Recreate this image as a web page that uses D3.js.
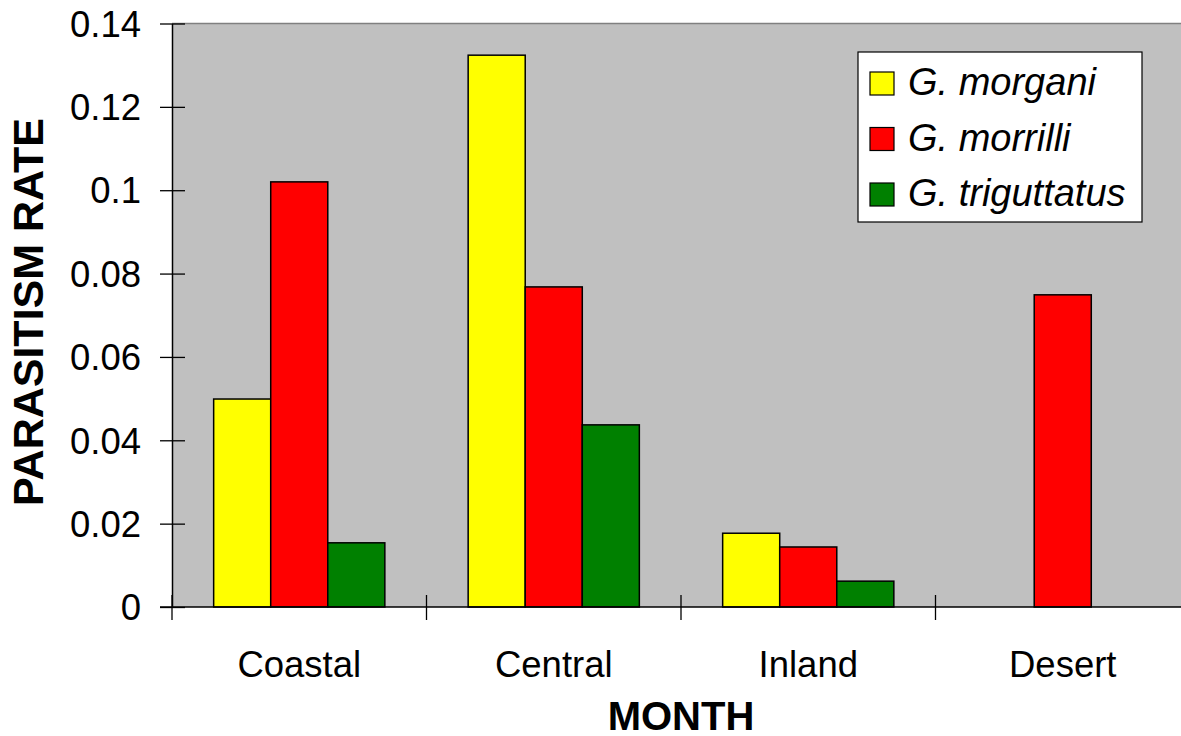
<!DOCTYPE html>
<html>
<head>
<meta charset="utf-8">
<script src="https://cdn.jsdelivr.net/npm/d3@7"></script>
<style>
  html, body { margin: 0; padding: 0; background: #ffffff; }
  svg { display: block; }
</style>
</head>
<body>
<svg id="chart" width="1181" height="736"></svg>
<script>
const categories = ["Coastal", "Central", "Inland", "Desert"];
const seriesNames = ["G. morgani", "G. morrilli", "G. triguttatus"];
const seriesColors = ["#FFFF00", "#FF0000", "#008000"];
const morgani = [0.0499, 0.1324, 0.0177, 0];
const morrilli = [0.1020, 0.0768, 0.0144, 0.0749];
const triguttatus = [0.0154, 0.0437, 0.0062, 0];
const yTicks = [0, 0.02, 0.04, 0.06, 0.08, 0.1, 0.12, 0.14];
const yTickLabels = ["0", "0.02", "0.04", "0.06", "0.08", "0.1", "0.12", "0.14"];
const seriesValues = [morgani, morrilli, triguttatus];

(function () {
const svg = d3.select("#chart");
const pLeft = 172, pRight = 1190, pTop = 23.5, pBottom = 607;
const font = "'Liberation Sans', Arial, sans-serif";

const x0 = d3.scaleBand().domain(categories).range([pLeft, pRight]).paddingInner(0).paddingOuter(0);
const x1 = d3.scaleBand().domain(seriesNames).range([0, x0.bandwidth()]).paddingInner(0).paddingOuter(0.73);
const y = d3.scaleLinear().domain([0, 0.14]).range([pBottom, pTop]);

// plot background
svg.append("rect").attr("x", pLeft).attr("y", pTop).attr("width", pRight - pLeft).attr("height", pBottom - pTop)
  .attr("fill", "#C0C0C0");
svg.append("line").attr("x1", pLeft).attr("x2", pRight).attr("y1", pTop).attr("y2", pTop)
  .attr("stroke", "#808080").attr("stroke-width", 1.5);

// bars
const groups = svg.append("g").selectAll("g").data(categories).join("g")
  .attr("transform", d => `translate(${x0(d)},0)`);
groups.selectAll("rect")
  .data((c, ci) => seriesNames.map((s, si) => ({ s, si, v: seriesValues[si][ci] })).filter(d => d.v > 0))
  .join("rect")
  .attr("x", d => x1(d.s))
  .attr("width", x1.bandwidth())
  .attr("y", d => y(d.v))
  .attr("height", d => y(0) - y(d.v))
  .attr("fill", d => seriesColors[d.si])
  .attr("stroke", "#000").attr("stroke-width", 1.5);

// y axis
const yAxis = d3.axisLeft(y).tickValues(yTicks).tickFormat((d, i) => yTickLabels[i]).tickSizeOuter(0).tickSize(0);
const yg = svg.append("g").attr("transform", `translate(${pLeft},0)`).call(yAxis);
yg.select(".domain").attr("stroke", "#000").attr("stroke-width", 1.5);
yg.selectAll(".tick line").attr("x1", -12).attr("x2", 13).attr("stroke", "#000").attr("stroke-width", 1.3);
yg.selectAll(".tick text").attr("x", -31).attr("dy", "0.35em")
  .style("font-family", font).style("font-size", "36.5px").attr("fill", "#000");

// x axis
const xAxis = d3.axisBottom(x0).tickSize(0).tickSizeOuter(0);
const xg = svg.append("g").attr("transform", `translate(0,${pBottom})`).call(xAxis);
xg.select(".domain").remove();
xg.append("line").attr("x1", 160).attr("x2", pRight).attr("y1", 0).attr("y2", 0).attr("stroke", "#000").attr("stroke-width", 1.5);
xg.selectAll(".tick text").attr("y", 70).attr("dy", 0)
  .style("font-family", font).style("font-size", "36.5px").attr("fill", "#000");
const boundaries = categories.map(c => x0(c)).concat([x0(categories[categories.length - 1]) + x0.bandwidth()]);
xg.selectAll("line.bt").data(boundaries).join("line").attr("class", "bt")
  .attr("x1", d => d).attr("x2", d => d).attr("y1", -12).attr("y2", 13)
  .attr("stroke", "#000").attr("stroke-width", 1.3);

// axis titles
svg.append("text").attr("transform", `translate(43,312) rotate(-90)`).attr("text-anchor", "middle")
  .style("font-family", font).style("font-size", "43px").style("font-weight", "bold").text("PARASITISM RATE");
svg.append("text").attr("x", (pLeft + pRight) / 2).attr("y", 730).attr("text-anchor", "middle")
  .style("font-family", font).style("font-size", "40px").style("font-weight", "bold").text("MONTH");

// legend
const lg = svg.append("g");
lg.append("rect").attr("x", 858).attr("y", 52).attr("width", 284).attr("height", 170)
  .attr("fill", "#fff").attr("stroke", "#000").attr("stroke-width", 1.2);
const rows = lg.selectAll("g.row").data(seriesNames).join("g").attr("class", "row")
  .attr("transform", (d, i) => `translate(0,${72 + i * 55.5})`);
rows.append("rect").attr("x", 870).attr("y", 0).attr("width", 24).attr("height", 23)
  .attr("fill", (d, i) => seriesColors[i]).attr("stroke", "#000").attr("stroke-width", 1.2);
rows.append("text").attr("x", 908).attr("y", 23)
  .style("font-family", font).style("font-size", "38px").style("font-style", "italic").text(d => d);
})();
</script>
</body>
</html>
